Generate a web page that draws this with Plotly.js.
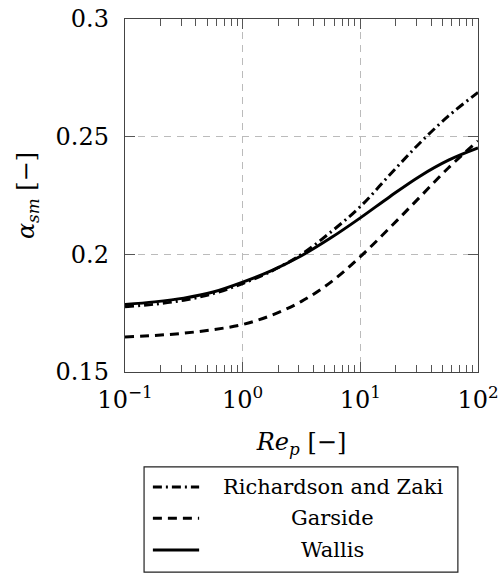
<!DOCTYPE html>
<html>
<head>
<meta charset="utf-8">
<script src="https://cdn.plot.ly/plotly-3.0.1.min.js"></script>
<style>
  html, body { margin: 0; padding: 0; background: #fff; }
  #chart { width: 499px; height: 573px; }
</style>
</head>
<body>
<div id="chart"></div>
<script>
// Particle Reynolds number samples (quarter-decade steps)
const rep = [0.1, 0.178, 0.316, 0.562, 1, 1.78, 3.16, 5.62, 10, 17.8, 31.6, 56.2, 100];

// Solids volume fraction at minimum slip for each correlation
const richardsonZaki = [0.1777, 0.1788, 0.1805, 0.1833, 0.1876, 0.1930, 0.2000, 0.2095, 0.2203, 0.2338, 0.2470, 0.2588, 0.2688];
const garside        = [0.1649, 0.1655, 0.1665, 0.1680, 0.1702, 0.1742, 0.1800, 0.1882, 0.1990, 0.2113, 0.2240, 0.2368, 0.2482];
const wallis         = [0.1787, 0.1798, 0.1814, 0.1840, 0.1882, 0.1932, 0.1994, 0.2070, 0.2155, 0.2245, 0.2330, 0.2400, 0.2452];

const seriesNames = ['Richardson and Zaki', 'Garside', 'Wallis'];
const xTickVals = [0.1, 1, 10, 100];
const xTickText = ['10<sup>−1</sup>', '10<sup>0</sup>', '10<sup>1</sup>', '10<sup>2</sup>'];
const xMinorVals = [0.2, 0.3, 0.4, 0.5, 0.6, 0.7, 0.8, 0.9,
                    2, 3, 4, 5, 6, 7, 8, 9,
                    20, 30, 40, 50, 60, 70, 80, 90];

const FONT = 'DejaVu Serif';
const dashes = ['9px,4px,2px,4px', '9px,6px', 'solid'];
const ys = [richardsonZaki, garside, wallis];

const traces = ys.map((y, i) => ({
  x: rep, y: y, name: seriesNames[i], type: 'scatter', mode: 'lines',
  line: { color: '#000', width: 3, dash: dashes[i], shape: 'spline', smoothing: 1 },
  showlegend: false, hoverinfo: 'skip'
}));

// Boxed legend below the axes, labels centred in their column
const legTop = -0.269, legBottom = -0.567, legLeft = 0.054, legRight = 0.943;
const rowY = [-0.326, -0.414, -0.504];
const shapes = [{
  type: 'rect', xref: 'paper', yref: 'paper',
  x0: legLeft, x1: legRight, y0: legBottom, y1: legTop,
  line: { color: '#222', width: 1.2 }, fillcolor: 'rgba(0,0,0,0)'
}];
const annotations = [];
seriesNames.forEach((name, i) => {
  shapes.push({
    type: 'line', xref: 'paper', yref: 'paper',
    x0: 0.079, x1: 0.210, y0: rowY[i], y1: rowY[i],
    line: { color: '#000', width: 3, dash: dashes[i] }
  });
  annotations.push({
    xref: 'paper', yref: 'paper', x: 0.589, y: rowY[i],
    xanchor: 'center', yanchor: 'middle', showarrow: false,
    text: name, font: { family: FONT, size: 21, color: '#000' }
  });
});

const layout = {
  width: 499, height: 573,
  margin: { l: 125, r: 21, t: 19, b: 201 },
  paper_bgcolor: '#fff', plot_bgcolor: '#fff',
  font: { family: FONT, size: 24, color: '#000' },
  xaxis: {
    type: 'log', range: [-1, 2],
    tickmode: 'array', tickvals: xTickVals, ticktext: xTickText,
    ticks: 'inside', ticklen: 10, tickwidth: 1, tickcolor: '#555',
    minor: { tickmode: 'array', tickvals: xMinorVals, ticks: 'inside', ticklen: 7, tickwidth: 1, tickcolor: '#555', showgrid: false },
    showline: true, linecolor: '#444', linewidth: 1.2, mirror: 'allticks',
    showgrid: true, gridcolor: '#bbbbbb', gridwidth: 1, griddash: '7px,6px',
    zeroline: false, ticklabelstandoff: 6,
    tickfont: { family: FONT, size: 24 },
    title: { text: '<i>Re</i><sub><i>p</i></sub> [−]', font: { family: FONT, size: 24 }, standoff: 20 },
    automargin: false
  },
  yaxis: {
    range: [0.15, 0.3], dtick: 0.05, tick0: 0.15,
    ticks: 'inside', ticklen: 10, tickwidth: 1, tickcolor: '#555',
    showline: true, linecolor: '#444', linewidth: 1.2, mirror: 'allticks',
    showgrid: true, gridcolor: '#bbbbbb', gridwidth: 1, griddash: '7px,6px',
    zeroline: false, ticklabelstandoff: 10,
    tickfont: { family: FONT, size: 24 },
    title: { text: '<i>α</i><sub><i>sm</i></sub> [−]', font: { family: FONT, size: 24 }, standoff: 14 },
    automargin: false
  },
  shapes: shapes,
  annotations: annotations,
  showlegend: false
};

Plotly.newPlot('chart', traces, layout, { staticPlot: true, displayModeBar: false });
</script>
</body>
</html>
